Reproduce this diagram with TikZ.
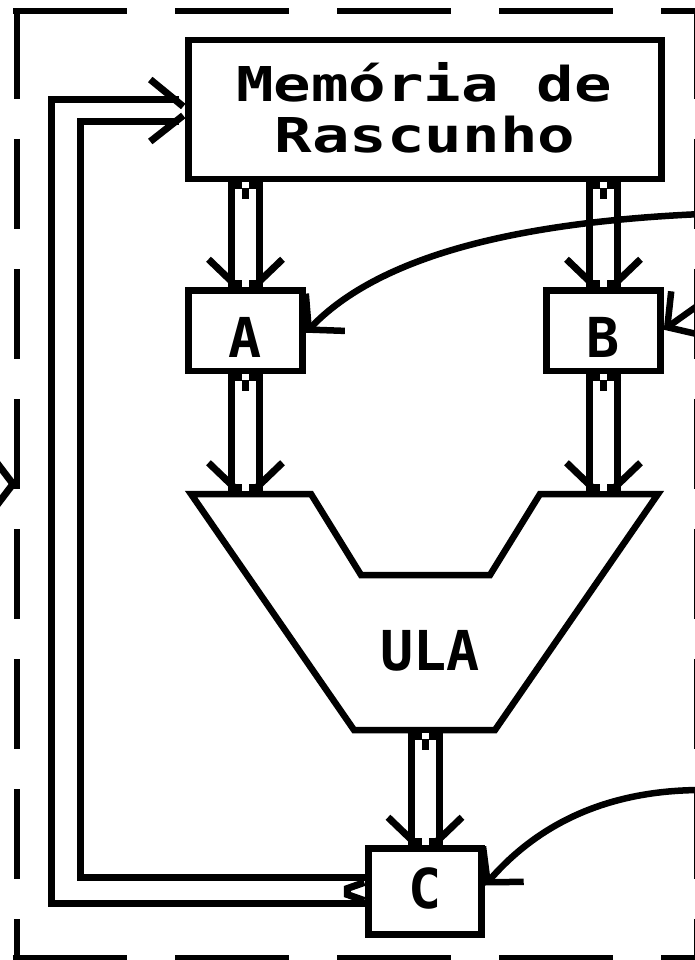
\documentclass[tikz,border=0pt]{standalone}
\usepackage{fontspec}
\usepackage{graphicx}
\newfontfamily\pixfont{DejaVu Sans Mono}
\usetikzlibrary{arrows.meta,calc}
\newcommand\myhead[1]{%
  \draw[wing] ($(#1)+(-37,-28)$) -- ($(#1)+(-11,-3)$);
  \draw[wing] ($(#1)+(37,-28)$) -- ($(#1)+(11,-3)$);
  \draw[wing] ($(#1)+(-17.5,-3.5)$) -- ($(#1)+(-3.5,-3.5)$);
  \draw[wing] ($(#1)+(17.5,-3.5)$) -- ($(#1)+(3.5,-3.5)$);
}
\newcommand\mytail[1]{%
  \draw[wing] ($(#1)+(-17.5,3.5)$) -- ($(#1)+(-3.5,3.5)$);
  \draw[wing] ($(#1)+(17.5,3.5)$) -- ($(#1)+(3.5,3.5)$);
  \draw[wing] ($(#1)+(0,6)$) -- ($(#1)+(0,17)$);
}
\begin{document}
\begin{tikzpicture}[x=1pt,y=-1pt,line width=6.5pt,
  box/.style={draw,line width=6.5pt,fill=white,inner sep=0pt},
  lbl/.style={font=\fontsize{55}{55}\pixfont\bfseries,inner sep=0pt,anchor=base},
  memlbl/.style={font=\fontsize{48}{51}\pixfont\bfseries,inner sep=0pt,anchor=base},
  shaft/.style={double,double distance=21pt,line width=7pt},
  wing/.style={line width=7pt},
  ctl/.style={line width=6.5pt,-{Straight Barb[length=24pt,width=54pt,line width=6.5pt]}},
  border/.style={line width=6pt}
]
\useasboundingbox (0,0) rectangle (695,960);
\clip (0,0) rectangle (695,960);
\fill[white] (0,0) rectangle (695,960);

% dashed frame
\draw[border,dash pattern=on 114pt off 48pt] (13,11.5) -- (700,11.5);
\draw[border,dash pattern=on 114pt off 48pt] (13,957.5) -- (700,957.5);
\draw[border,dash pattern=on 90pt off 40pt] (16.5,9) -- (16.5,960);
\draw[border,dash pattern=on 90pt off 40pt] (697,9) -- (697,960);
\draw[line width=7pt,line join=miter] (-3,463) -- (13,484) -- (-3,505);

% boxes
\node[box,minimum width=473pt,minimum height=139pt] (mem) at (425,109.5) {};
\node[box,minimum width=114pt,minimum height=80.5pt] (A) at (245.5,330.75) {};
\node[box,minimum width=114pt,minimum height=80.5pt] (B) at (603.5,330.75) {};
\node[box,minimum width=113pt,minimum height=86pt] (C) at (425,891.5) {};

% ULA
\draw[line width=6.5pt,line join=miter,fill=white]
  (191,494) -- (311,494) -- (361,575) -- (490,575) -- (540,494)
  -- (658,494) -- (495,730) -- (354,730) -- cycle;
\coordinate (ulaA) at (245.5,490.75);
\coordinate (ulaB) at (603.5,490.75);
\coordinate (ulaC) at (425,733.25);

% hollow data arrows
\draw[shaft] (mem.south -| A.north) coordinate (sA) -- (A.north);
\draw[shaft] (mem.south -| B.north) coordinate (sB) -- (B.north);
\draw[shaft] (A.south) -- (ulaA);
\draw[shaft] (B.south) -- (ulaB);
\draw[shaft] (ulaC) -- (C.north);
\myhead{A.north}\myhead{B.north}\myhead{ulaA}\myhead{ulaB}\myhead{C.north}
\mytail{sA}\mytail{sB}\mytail{A.south}\mytail{B.south}\mytail{ulaC}

% feedback C -> memory
\draw[wing,line join=miter] ($(C.west)+(0,12)$) -| (51.5,100) -- ($(mem.west)+(-6,-9.5)$);
\draw[wing,line join=miter] ($(C.west)+(0,-14)$) -| (80,121.5) -- ($(mem.west)+(-6,12)$);
\draw[wing] ($(mem.west)+(-35,-30)$) -- ($(mem.west)+(-2,-3)$);
\draw[wing] ($(mem.west)+(-35,32)$) -- ($(mem.west)+(-2,6)$);
\draw[wing,line join=miter] ($(C.west)+(-1,-9)$) -- ($(C.west)+(-18,-3)$) -- ($(C.west)+(-18,3)$) -- ($(C.west)+(-1,9)$);

% control signals
\coordinate (srcA) at (702,214);
\coordinate (srcB) at (745,272);
\coordinate (srcC) at (702,790);
\draw[ctl] (srcA) .. controls (520,222) and (380,255) .. ($(A.east)+(0,2)$);
\draw[ctl] (srcB) -- ($(B.east)+(0,-1)$);
\draw[ctl] (srcC) .. controls (610,790) and (540,822) .. ($(C.east)+(0,-6)$);

% labels
\node[memlbl] (m1) at (424,102) {\scalebox{1.3}[1]{Memória de}};
\node[memlbl] (m2) at (425,153) {\scalebox{1.3}[1]{Rascunho}};
\node[lbl] (Al) at (245.5,357) {A};
\node[lbl] (Bl) at (603.5,357) {B};
\node[lbl] (Cl) at (425,908) {C};
\node[lbl] (Ul) at (430,670) {ULA};
\end{tikzpicture}
\end{document}
